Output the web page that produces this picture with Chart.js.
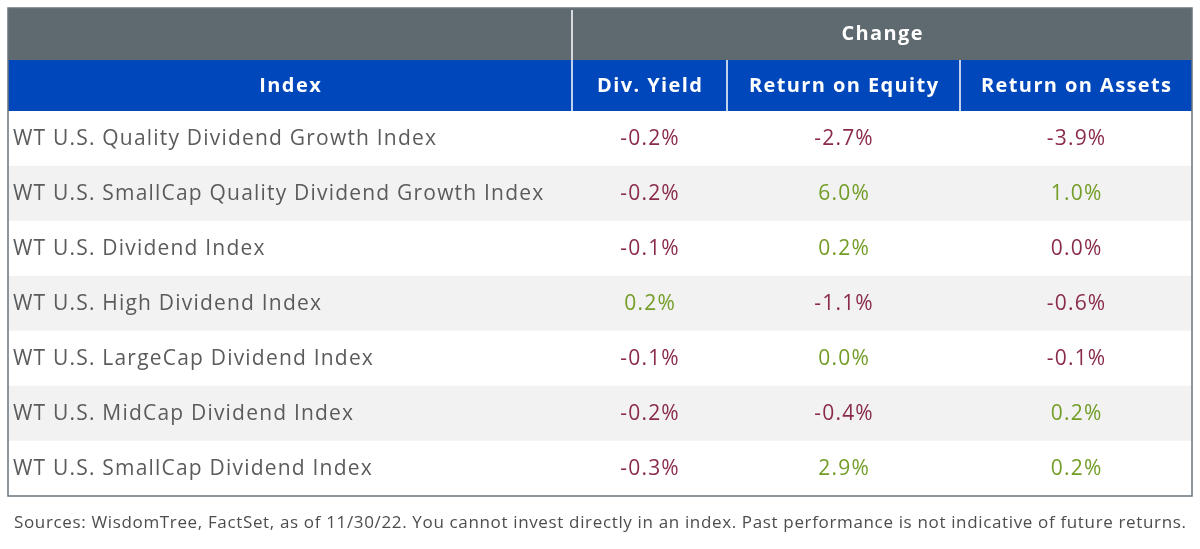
<!DOCTYPE html>
<html lang="en">
<head>
    <meta charset="UTF-8">
    <title>Dividend Index Changes</title>
    <style>
        html, body { margin: 0; padding: 0; background: #ffffff; }
        #wrap { width: 1200px; height: 549px; position: relative; }
    </style>
</head>
<body>
    <div id="wrap">
        <canvas id="tableChart"></canvas>
    </div>
    <script src="https://cdn.jsdelivr.net/npm/chart.js@4/dist/chart.umd.min.js"></script>
    <script>
        // table data
        const indexNames = [
            'WT U.S. Quality Dividend Growth Index',
            'WT U.S. SmallCap Quality Dividend Growth Index',
            'WT U.S. Dividend Index',
            'WT U.S. High Dividend Index',
            'WT U.S. LargeCap Dividend Index',
            'WT U.S. MidCap Dividend Index',
            'WT U.S. SmallCap Dividend Index'
        ];
        const divYield = [-0.2, -0.2, -0.1, 0.2, -0.1, -0.2, -0.3];
        // 0.0% cells: sign kept from the colour in the source (green = up, red = down)
        const returnOnEquity = [-2.7, 6.0, 0.2, -1.1, 0.04, -0.4, 2.9];
        const returnOnAssets = [-3.9, 1.0, -0.04, -0.6, -0.1, 0.2, 0.2];
        const columnHeaders = ['Index', 'Div. Yield', 'Return on Equity', 'Return on Assets'];
        const groupHeader = 'Change';
        const sourceNote = 'Sources: WisdomTree, FactSet, as of 11/30/22. You cannot invest directly in an index. Past performance is not indicative of future returns.';

        // column edges in table units (px across the table)
        const colEdges = [0, 564, 719, 952, 1184];
        const valueCols = [divYield, returnOnEquity, returnOnAssets];

        const GRAY = '#5e6970';
        const BLUE = '#0047bb';
        const RED = '#8a2b4c';
        const GREEN = '#739d27';
        const TEXT = '#5a5b5d';

        function fmt(v) {
            return (Math.abs(v) < 0.05 ? 0 : v).toFixed(1) + '%';
        }

        // centred text that ignores the trailing letter-spacing gap
        function centerText(ctx, str, cx, cy, spacing) {
            ctx.textAlign = 'left';
            const w = ctx.measureText(str).width - spacing;
            ctx.fillText(str, cx - w / 2, cy);
        }

        const tablePlugin = {
            id: 'tablePlugin',
            afterDatasetsDraw(chart) {
                const ctx = chart.ctx;
                const area = chart.chartArea;
                const x = chart.scales.x;
                const y = chart.scales.y;
                const left = x.getPixelForValue(colEdges[0]);
                const right = x.getPixelForValue(colEdges[4]);
                const grayTop = area.top - 103;
                const blueTop = area.top - 51;

                ctx.save();
                ctx.textBaseline = 'middle';
                // header bands
                ctx.fillStyle = GRAY;
                ctx.fillRect(left, grayTop, right - left, 52);
                ctx.fillStyle = BLUE;
                ctx.fillRect(left, blueTop, right - left, 51);

                // header dividers
                ctx.strokeStyle = '#ffffff';
                ctx.lineWidth = 1.5;
                ctx.beginPath();
                let px = x.getPixelForValue(colEdges[1]);
                ctx.moveTo(px, grayTop + 2); ctx.lineTo(px, area.top);
                for (let c = 2; c <= 3; c++) {
                    px = x.getPixelForValue(colEdges[c]);
                    ctx.moveTo(px, blueTop); ctx.lineTo(px, area.top);
                }
                ctx.stroke();

                // header text
                ctx.fillStyle = '#ffffff';
                ctx.font = 'bold 20px "Open Sans"';
                ctx.letterSpacing = '1.4px';
                centerText(ctx, groupHeader,
                    (x.getPixelForValue(colEdges[1]) + right) / 2, grayTop + 26, 1.4);
                columnHeaders.forEach((h, c) => {
                    const cx = (x.getPixelForValue(colEdges[c]) + x.getPixelForValue(colEdges[c + 1])) / 2;
                    centerText(ctx, h, cx, blueTop + 26, 1.4);
                });

                // body cells
                ctx.font = '21px "Open Sans"';
                ctx.letterSpacing = '1.2px';
                indexNames.forEach((name, i) => {
                    const cy = y.getPixelForValue(i) + 1;
                    ctx.textAlign = 'left';
                    ctx.fillStyle = TEXT;
                    ctx.fillText(name, left + 5, cy);
                    valueCols.forEach((col, c) => {
                        const v = col[i];
                        const cx = (x.getPixelForValue(colEdges[c + 1]) + x.getPixelForValue(colEdges[c + 2])) / 2;
                        ctx.fillStyle = v < 0 ? RED : GREEN;
                        centerText(ctx, fmt(v), cx, cy, 1.2);
                    });
                });

                // outer border
                ctx.strokeStyle = '#6b747b';
                ctx.lineWidth = 1.5;
                ctx.strokeRect(left, grayTop, right - left, area.bottom - grayTop);

                // source note
                ctx.fillStyle = '#4d4d4f';
                ctx.font = '17px "Open Sans"';
                ctx.letterSpacing = '0.65px';
                centerText(ctx, sourceNote, (left + right) / 2, area.bottom + 27, 0.65);
                ctx.restore();
            }
        };

        new Chart(document.getElementById('tableChart'), {
            type: 'bar',
            data: {
                labels: indexNames,
                datasets: [{
                    // row stripes
                    data: indexNames.map(() => [colEdges[0], colEdges[4]]),
                    backgroundColor: indexNames.map((_, i) => i % 2 ? '#f2f2f2' : '#ffffff'),
                    borderWidth: 0,
                    barPercentage: 1,
                    categoryPercentage: 1
                }]
            },
            options: {
                indexAxis: 'y',
                responsive: true,
                maintainAspectRatio: false,
                animation: false,
                layout: { padding: { left: 8, right: 8, top: 111, bottom: 53 } },
                scales: {
                    x: { type: 'linear', min: colEdges[0], max: colEdges[4], display: false },
                    y: { type: 'category', display: false }
                },
                plugins: {
                    legend: { display: false },
                    tooltip: { enabled: false }
                }
            },
            plugins: [tablePlugin]
        });
    </script>
</body>
</html>
